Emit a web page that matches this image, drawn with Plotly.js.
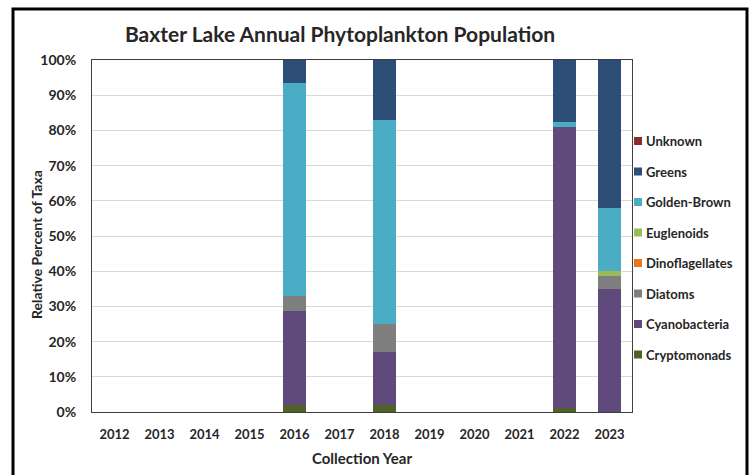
<!DOCTYPE html>
<html>
<head>
<meta charset="utf-8">
<script src="https://cdn.plot.ly/plotly-3.0.1.min.js"></script>
<style>html,body{margin:0;padding:0;background:#fff;}#chart{width:752px;height:475px;}</style>
</head>
<body>
<div id="chart"></div>
<script>
// ---- data ----
const years = ["2012","2013","2014","2015","2016","2017","2018","2019","2020","2021","2022","2023"];
const cryptomonads   = [null,null,null,null, 2.0,null, 2.0,null,null,null, 1.0, 0.0];
const cyanobacteria  = [null,null,null,null,26.7,null,15.0,null,null,null,80.1,35.0];
const diatoms        = [null,null,null,null, 4.3,null, 8.0,null,null,null, 0.0, 3.5];
const dinoflagellates= [null,null,null,null, 0.0,null, 0.0,null,null,null, 0.0, 0.0];
const euglenoids     = [null,null,null,null, 0.0,null, 0.0,null,null,null, 0.0, 1.5];
const goldenBrown    = [null,null,null,null,60.6,null,58.0,null,null,null, 1.2,18.0];
const greens         = [null,null,null,null, 6.4,null,17.0,null,null,null,17.7,42.0];
const unknown        = [null,null,null,null, 0.0,null, 0.0,null,null,null, 0.0, 0.0];
const seriesNames  = ["Cryptomonads","Cyanobacteria","Diatoms","Dinoflagellates","Euglenoids","Golden-Brown","Greens","Unknown"];
const seriesValues = [cryptomonads,cyanobacteria,diatoms,dinoflagellates,euglenoids,goldenBrown,greens,unknown];
const seriesColors = ["#4f6228","#604a7b","#7f7f7f","#e8781e","#9bbb59","#4bacc6","#2d4e76","#8c2d2d"];
const yTickVals = [0,10,20,30,40,50,60,70,80,90,100];
const yTickText = yTickVals.map(v => v + "%");

const FONT = "Lato, 'Open Sans', sans-serif";

const traces = seriesNames.map((n, i) => ({
  type: "bar", name: n, x: years, y: seriesValues[i],
  marker: {color: seriesColors[i], line: {width: 0}},
  showlegend: false, hoverinfo: "x+y+name"
}));

// plot geometry (px)
const W = 752, H = 475, ML = 92, MR = 120, MT = 60, MB = 63;
const PW = W - ML - MR, PH = H - MT - MB;
const px2x = p => (p - ML) / PW;
const py2y = p => (H - MB - p) / PH;

const shapes = [
  {type: "rect", xref: "paper", yref: "paper", x0: px2x(13), x1: px2x(747), y0: py2y(480), y1: py2y(9),
   line: {color: "#000", width: 3}, fillcolor: "rgba(0,0,0,0)", layer: "above"}
];
const annotations = [];
// legend (reversed order, Unknown on top)
for (let k = 0; k < seriesNames.length; k++) {
  const i = seriesNames.length - 1 - k;
  const cy = 141 + k * 30.5;
  shapes.push({type: "rect", xref: "paper", yref: "paper",
    x0: px2x(634), x1: px2x(642), y0: py2y(cy + 4), y1: py2y(cy - 4),
    fillcolor: seriesColors[i], line: {width: 0}});
  annotations.push({xref: "paper", yref: "paper", x: px2x(644), y: py2y(cy), xanchor: "left", yanchor: "middle",
    text: "<b>" + seriesNames[i] + "</b>", showarrow: false, font: {family: FONT, size: 13, color: "#262626"}});
}
// y-axis title
annotations.push({xref: "paper", yref: "paper", x: px2x(36), y: py2y(245), xanchor: "center", yanchor: "middle",
  textangle: -90, text: "<b>Relative Percent of Taxa</b>", showarrow: false, font: {family: FONT, size: 14, color: "#262626"}});

const layout = {
  width: W, height: H,
  margin: {l: ML, r: MR, t: MT, b: MB, pad: 0},
  paper_bgcolor: "#fff", plot_bgcolor: "#fff",
  barmode: "stack", bargap: 0.49,
  showlegend: false,
  font: {family: FONT, color: "#262626"},
  title: {text: "<b>Baxter Lake Annual Phytoplankton Population</b>", x: 340 / W, xanchor: "center",
          y: 1 - 35 / H, yanchor: "middle", font: {family: FONT, size: 21, color: "#262626"}},
  xaxis: {type: "category", categoryorder: "array", categoryarray: years,
          tickvals: years, ticktext: years.map(y => "<b>" + y + "</b>"),
          showline: true, mirror: true, linecolor: "#404040", linewidth: 1,
          ticks: "", tickfont: {family: FONT, size: 13, color: "#262626"}, ticklabelstandoff: 10,
          title: {text: "<b>Collection Year</b>", font: {family: FONT, size: 15, color: "#262626"}, standoff: 12},
          automargin: false, fixedrange: true},
  yaxis: {range: [0, 100], tickvals: yTickVals, ticktext: yTickText.map(t => "<b>" + t + "</b>"),
          showgrid: true, gridcolor: "#d9d9d9", gridwidth: 1, zeroline: false,
          showline: true, mirror: true, linecolor: "#404040", linewidth: 1,
          ticks: "", tickfont: {family: FONT, size: 14, color: "#262626"}, ticklabelstandoff: 12,
          automargin: false, fixedrange: true},
  shapes: shapes,
  annotations: annotations
};

Plotly.newPlot("chart", traces, layout, {displayModeBar: false, staticPlot: true});
</script>
</body>
</html>
